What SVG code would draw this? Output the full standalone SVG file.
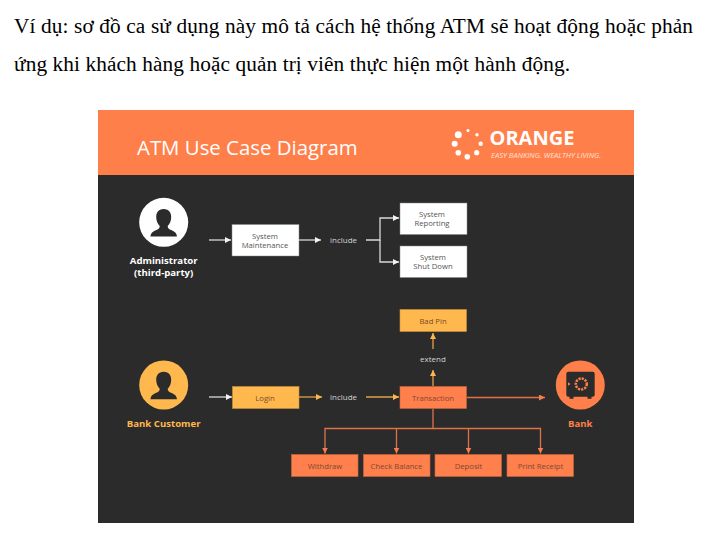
<svg xmlns="http://www.w3.org/2000/svg" width="717" height="551" viewBox="0 0 717 551">
<style>
.p{font-family:"Liberation Serif",serif;font-size:21.3px;fill:#000}
text{font-family:"Open Sans","Noto Sans",sans-serif}
.n{font-size:7.700px;fill:#555;text-anchor:middle}
.nd{font-size:7.700px;fill:#7d4a30;text-anchor:middle}
.l{font-size:8px;fill:#d4d4d4;text-anchor:middle}
.a{font-size:9.600px;font-weight:700;text-anchor:middle}
.w{fill:none;stroke:#d9d9d9;stroke-width:1.300}
.y{fill:none;stroke:#e0a048;stroke-width:1.300}
.o{fill:none;stroke:#e0724a;stroke-width:1.300}
.bw{fill:#fff;stroke:#888;stroke-width:.5}
.by{fill:#ffb84d;stroke:#c9913e;stroke-width:.6}
.bo{fill:#ff7f4d;stroke:#c9683f;stroke-width:.6}
</style>
<defs>
<marker id="mw" markerWidth="7" markerHeight="6" refX="6" refY="3" orient="auto" markerUnits="userSpaceOnUse"><path d="M0 0L6 3L0 6Z" fill="#f2f2f2"/></marker>
<marker id="my" markerWidth="7" markerHeight="6" refX="6" refY="3" orient="auto" markerUnits="userSpaceOnUse"><path d="M0 0L6 3L0 6Z" fill="#ffb64d"/></marker>
<marker id="mo" markerWidth="7" markerHeight="6" refX="6" refY="3" orient="auto" markerUnits="userSpaceOnUse"><path d="M0 0L6 3L0 6Z" fill="#f47f4d"/></marker>
<path id="u" d="M0-14c-5.500 0-7.500 4-7.500 8 0 4 1.500 7 3.500 9 0 2.500-1 3-4 4.200-3.500 1.300-5 3.500-5.300 6.300H13.300c-.3-2.800-1.800-5-5.300-6.300-3-1.200-4-1.700-4-4.200 2-2 3.500-5 3.500-9 0-4-2-8-7.500-8Z"/>
</defs>
<rect width="717" height="551" fill="#fff"/>
<g id="intro">
<text class="p" x="14" y="33" textLength="679" lengthAdjust="spacing">Ví dụ: sơ đồ ca sử dụng này mô tả cách hệ thống ATM sẽ hoạt động hoặc phản</text>
<text class="p" x="14" y="71" textLength="556" lengthAdjust="spacing">ứng khi khách hàng hoặc quản trị viên thực hiện một hành động.</text>
</g>
<rect x="98" y="110" width="536" height="413" fill="#2b2b2b"/>
<rect x="98" y="110" width="536" height="65" fill="#ff7f4a"/>
<text x="137" y="155" font-size="20.400" fill="#fff">ATM Use Case Diagram</text>
<g id="logo" fill="#fff">
<circle cx="458.300" cy="134.800" r="3.500"/><circle cx="468" cy="130.500" r="1.500"/><circle cx="477" cy="134.700" r="1.700"/><circle cx="480.700" cy="143.700" r="2.200"/><circle cx="476.700" cy="152.700" r="2.600"/><circle cx="467.300" cy="156.700" r="2.800"/><circle cx="458.300" cy="152.700" r="2.800"/><circle cx="454.700" cy="143.700" r="3"/>
<text x="489.500" y="145" font-size="20" font-weight="700">ORANGE</text>
<text x="491" y="158" font-size="7.600" font-style="italic" fill="#ffe0d2">EASY BANKING. WEALTHY LIVING.</text>
</g>
<g id="connectors">
<path class="w" marker-end="url(#mw)" d="M209 240H231"/>
<path class="w" marker-end="url(#mw)" d="M299 240H321"/>
<path class="w" marker-end="url(#mw)" d="M366 240H380V218H399"/>
<path class="w" marker-end="url(#mw)" d="M380 240V262H399"/>
<path class="w" marker-end="url(#mw)" d="M209 397H232"/>
<path class="y" marker-end="url(#my)" d="M299 397H322"/>
<path class="y" marker-end="url(#my)" d="M366 397H399"/>
<path class="y" marker-end="url(#my)" d="M433 386V370"/>
<path class="y" marker-end="url(#my)" d="M433 349V333"/>
<path class="o" marker-end="url(#mo)" d="M467 397.500H545"/>
<path class="o" marker-end="url(#mo)" d="M433 409V428.500H325V453.500"/>
<path class="o" marker-end="url(#mo)" d="M396.500 428.500V453.500"/>
<path class="o" marker-end="url(#mo)" d="M468.500 428.500V453.500"/>
<path class="o" marker-end="url(#mo)" d="M433 428.500H540.500V453.500"/>
</g>
<g id="administrator"><circle cx="163.700" cy="222.300" r="24.500" fill="#fff"/><use href="#u" x="163.700" y="223" fill="#2b2b2b"/>
<text class="a" fill="#fff"><tspan x="163.700" y="264">Administrator</tspan><tspan x="163.700" y="275.500">(third-party)</tspan></text></g>
<g id="system-maintenance"><rect class="bw" x="232" y="224.500" width="67" height="31.500"/><text class="n"><tspan x="265" y="239">System</tspan><tspan x="265" y="248">Maintenance</tspan></text></g>
<text class="l" x="343.500" y="243">include</text>
<g id="system-reporting"><rect class="bw" x="400" y="203" width="67" height="31.500"/><text class="n"><tspan x="432" y="217">System</tspan><tspan x="432" y="226">Reporting</tspan></text></g>
<g id="system-shutdown"><rect class="bw" x="400" y="246" width="67" height="31.500"/><text class="n"><tspan x="433" y="260">System</tspan><tspan x="433" y="269">Shut Down</tspan></text></g>
<g id="bank-customer"><circle cx="163.700" cy="385" r="24.500" fill="#ffb84d"/><use href="#u" x="163.700" y="385.700" fill="#2b2b2b"/>
<text class="a" x="163.700" y="427" fill="#ffb84d">Bank Customer</text></g>
<g id="login"><rect class="by" x="232.500" y="386.500" width="66.500" height="22"/><text class="nd" x="265" y="401">Login</text></g>
<text class="l" x="343.500" y="400">include</text>
<g id="transaction"><rect class="bo" x="400" y="386.500" width="66.500" height="22"/><text class="nd" x="433" y="401">Transaction</text></g>
<g id="bad-pin"><rect class="by" x="400" y="309.500" width="66.500" height="22"/><text class="nd" x="433" y="324">Bad Pin</text></g>
<text class="l" x="433" y="362">extend</text>
<g id="bank"><circle cx="580.300" cy="385" r="24.500" fill="#ff7f4a"/>
<path d="M568.300 371.700h24.400a2 2 0 0 1 2 2v21a2 2 0 0 1-2 2h-1.200v2h-4v-2H573.500v2h-4v-2h-1.200a2 2 0 0 1-2-2v-21a2 2 0 0 1 2-2Z" fill="#2b2b2b"/>
<path d="M568 382.200l2.500 1.800-2.500 1.800Z" fill="#ff7f4a"/>
<circle cx="581.300" cy="384" r="5.500" fill="none" stroke="#ff7f4a" stroke-width="2.500" stroke-dasharray="2.200 1"/>
<text class="a" x="580.300" y="427" fill="#ff7f4a">Bank</text></g>
<g id="withdraw"><rect class="bo" x="291.500" y="454.500" width="66.500" height="22"/><text class="nd" x="325" y="469">Withdraw</text></g>
<g id="check-balance"><rect class="bo" x="363.500" y="454.500" width="66.500" height="22"/><text class="nd" x="396.500" y="469">Check Balance</text></g>
<g id="deposit"><rect class="bo" x="435" y="454.500" width="66.500" height="22"/><text class="nd" x="468.500" y="469">Deposit</text></g>
<g id="print-receipt"><rect class="bo" x="507" y="454.500" width="66.500" height="22"/><text class="nd" x="540.500" y="469">Print Receipt</text></g>
</svg>
